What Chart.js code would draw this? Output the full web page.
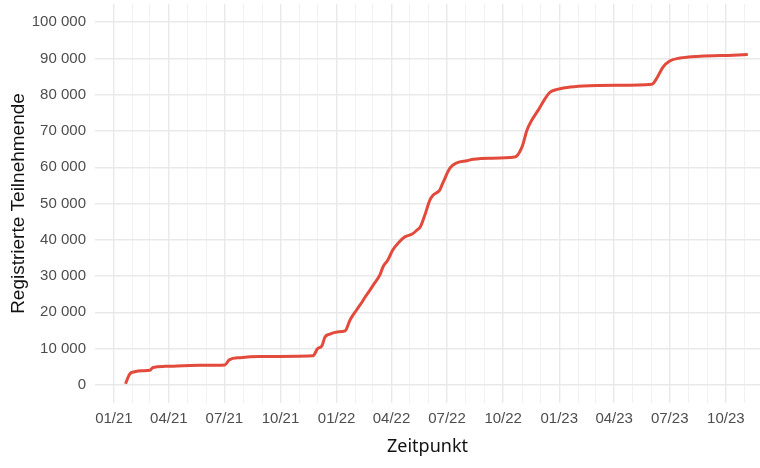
<!DOCTYPE html>
<html>
<head>
<meta charset="utf-8">
<script src="https://cdn.jsdelivr.net/npm/chart.js@4.4.1/dist/chart.umd.min.js"></script>
<style>
  html, body { margin: 0; padding: 0; background: #fff; }
  canvas { display: block; }
</style>
</head>
<body>
<canvas id="regChart" width="760" height="468"></canvas>
<script>
// Registrierte Teilnehmende
var dates = [
  '2021-01-20', '2021-01-24', '2021-01-27', '2021-02-04', '2021-02-16', '2021-03-01',
  '2021-03-06', '2021-03-26', '2021-05-22', '2021-07-02', '2021-07-09', '2021-07-27',
  '2021-08-28', '2021-11-23', '2021-12-01', '2021-12-08', '2021-12-13', '2021-12-21',
  '2022-01-02', '2022-01-15', '2022-01-23', '2022-02-03', '2022-02-12', '2022-02-16',
  '2022-02-25', '2022-03-02', '2022-03-13', '2022-03-18', '2022-03-26', '2022-04-03',
  '2022-04-12', '2022-04-23', '2022-05-05', '2022-05-13', '2022-05-18', '2022-05-26',
  '2022-06-03', '2022-06-08', '2022-06-19', '2022-06-24', '2022-07-06', '2022-07-17',
  '2022-08-03', '2022-08-13', '2022-09-09', '2022-10-20', '2022-11-01', '2022-11-09',
  '2022-11-17', '2022-11-27', '2022-12-09', '2022-12-17', '2022-12-25', '2023-01-14',
  '2023-02-09', '2023-04-06', '2023-06-02', '2023-06-10', '2023-06-20', '2023-07-01',
  '2023-07-18', '2023-08-20', '2023-10-13', '2023-11-06'
];
var registered = [
  300, 2000, 3000, 3600, 3900, 4000,
  4800, 5100, 5400, 5500, 6900, 7500,
  7800, 8000, 10000, 10800, 13200, 14000,
  14600, 14900, 17900, 20700, 22900, 24000,
  26200, 27500, 30300, 32500, 34400, 37200,
  39100, 40800, 41600, 42700, 43500, 47000,
  51000, 52300, 53700, 55600, 59800, 61200,
  61800, 62200, 62500, 62800, 65600, 70200,
  73000, 75600, 79000, 80700, 81300, 82000,
  82400, 82600, 82900, 84600, 87600, 89300,
  90100, 90600, 90900, 91100
];
var xTickLabels = ['01/21', '04/21', '07/21', '10/21', '01/22', '04/22',
                   '07/22', '10/22', '01/23', '04/23', '07/23', '10/23'];
var yTickValues = [0, 10000, 20000, 30000, 40000, 50000,
                   60000, 70000, 80000, 90000, 100000];

var DAY = 86400000;
var origin = Date.UTC(2021, 0, 1);
function dayOf(y, m, d) { return Math.round((Date.UTC(y, m, d) - origin) / DAY); }
function parseDate(s) { var p = s.split('-'); return dayOf(+p[0], +p[1] - 1, +p[2]); }
function labelDay(l) { var p = l.split('/'); return dayOf(2000 + +p[1], +p[0] - 1, 1); }
function fmtNum(v) { return String(v).replace(/\B(?=(\d{3})+(?!\d))/g, ' '); }

var xMin = -31, xMax = 1059;
var points = dates.map(function(d, i) { return { x: parseDate(d), y: registered[i] }; });

var majorX = {};
xTickLabels.forEach(function(l) { majorX[labelDay(l)] = l; });
var majorY = {};
yTickValues.forEach(function(v) { majorY[v] = true; });

var gridMajor = '#e9e9e9', gridMinor = '#f1f1f1';

var ctx = document.getElementById('regChart').getContext('2d');
var chart = new Chart(ctx, {
  type: 'line',
  data: {
    datasets: [{
      data: points,
      borderColor: '#e24a3b',
      borderWidth: 3,
      pointRadius: 0,
      fill: false,
      cubicInterpolationMode: 'monotone'
    }]
  },
  options: {
    responsive: false,
    animation: false,
    layout: { padding: { top: 4, right: 0, bottom: 0, left: 0 } },
    plugins: { legend: { display: false }, tooltip: { enabled: false } },
    scales: {
      x: {
        type: 'linear',
        min: xMin,
        max: xMax,
        border: { display: false },
        grid: {
          drawTicks: false,
          color: function(c) { return majorX[c.tick.value] ? gridMajor : gridMinor; },
          lineWidth: function(c) { return majorX[c.tick.value] ? 1.4 : 1; }
        },
        ticks: {
          autoSkip: false,
          maxRotation: 0,
          padding: 7,
          color: '#4d4d4d',
          font: { family: 'Liberation Sans', size: 15 },
          callback: function(v) { return majorX[v] || ''; }
        },
        afterBuildTicks: function(scale) {
          var ticks = [];
          for (var m = -1; m < 36; m++) {
            var v = dayOf(2021, m, 1);
            if (v > xMin && v <= xMax) ticks.push({ value: v });
          }
          scale.ticks = ticks;
        },
        afterFit: function(scale) {
          scale.height = 65;
          scale.paddingLeft = 0;
          scale.paddingRight = 0;
        },
        title: {
          display: true,
          text: 'Zeitpunkt',
          color: '#111',
          font: { family: 'Noto Sans', size: 18 },
          padding: { top: 0, bottom: 10 }
        }
      },
      y: {
        min: -5000,
        max: 105000,
        border: { display: false },
        grid: {
          drawTicks: false,
          color: function(c) { return majorY[c.tick.value] ? gridMajor : gridMinor; },
          lineWidth: function(c) { return majorY[c.tick.value] ? 1.4 : 1; }
        },
        ticks: {
          padding: 9,
          color: '#4d4d4d',
          font: { family: 'Liberation Sans', size: 15 },
          callback: function(v) { return majorY[v] ? fmtNum(v) : ''; }
        },
        afterBuildTicks: function(scale) {
          var ticks = [];
          for (var v = 0; v <= 100000; v += 5000) ticks.push({ value: v });
          scale.ticks = ticks;
        },
        afterFit: function(scale) {
          scale.width = 95;
          scale.paddingTop = 0;
          scale.paddingBottom = 0;
        },
        title: {
          display: true,
          text: 'Registrierte Teilnehmende',
          color: '#111',
          font: { family: 'Liberation Sans', size: 19 },
          padding: { top: 7, bottom: 0 }
        }
      }
    }
  }
});
</script>
</body>
</html>
